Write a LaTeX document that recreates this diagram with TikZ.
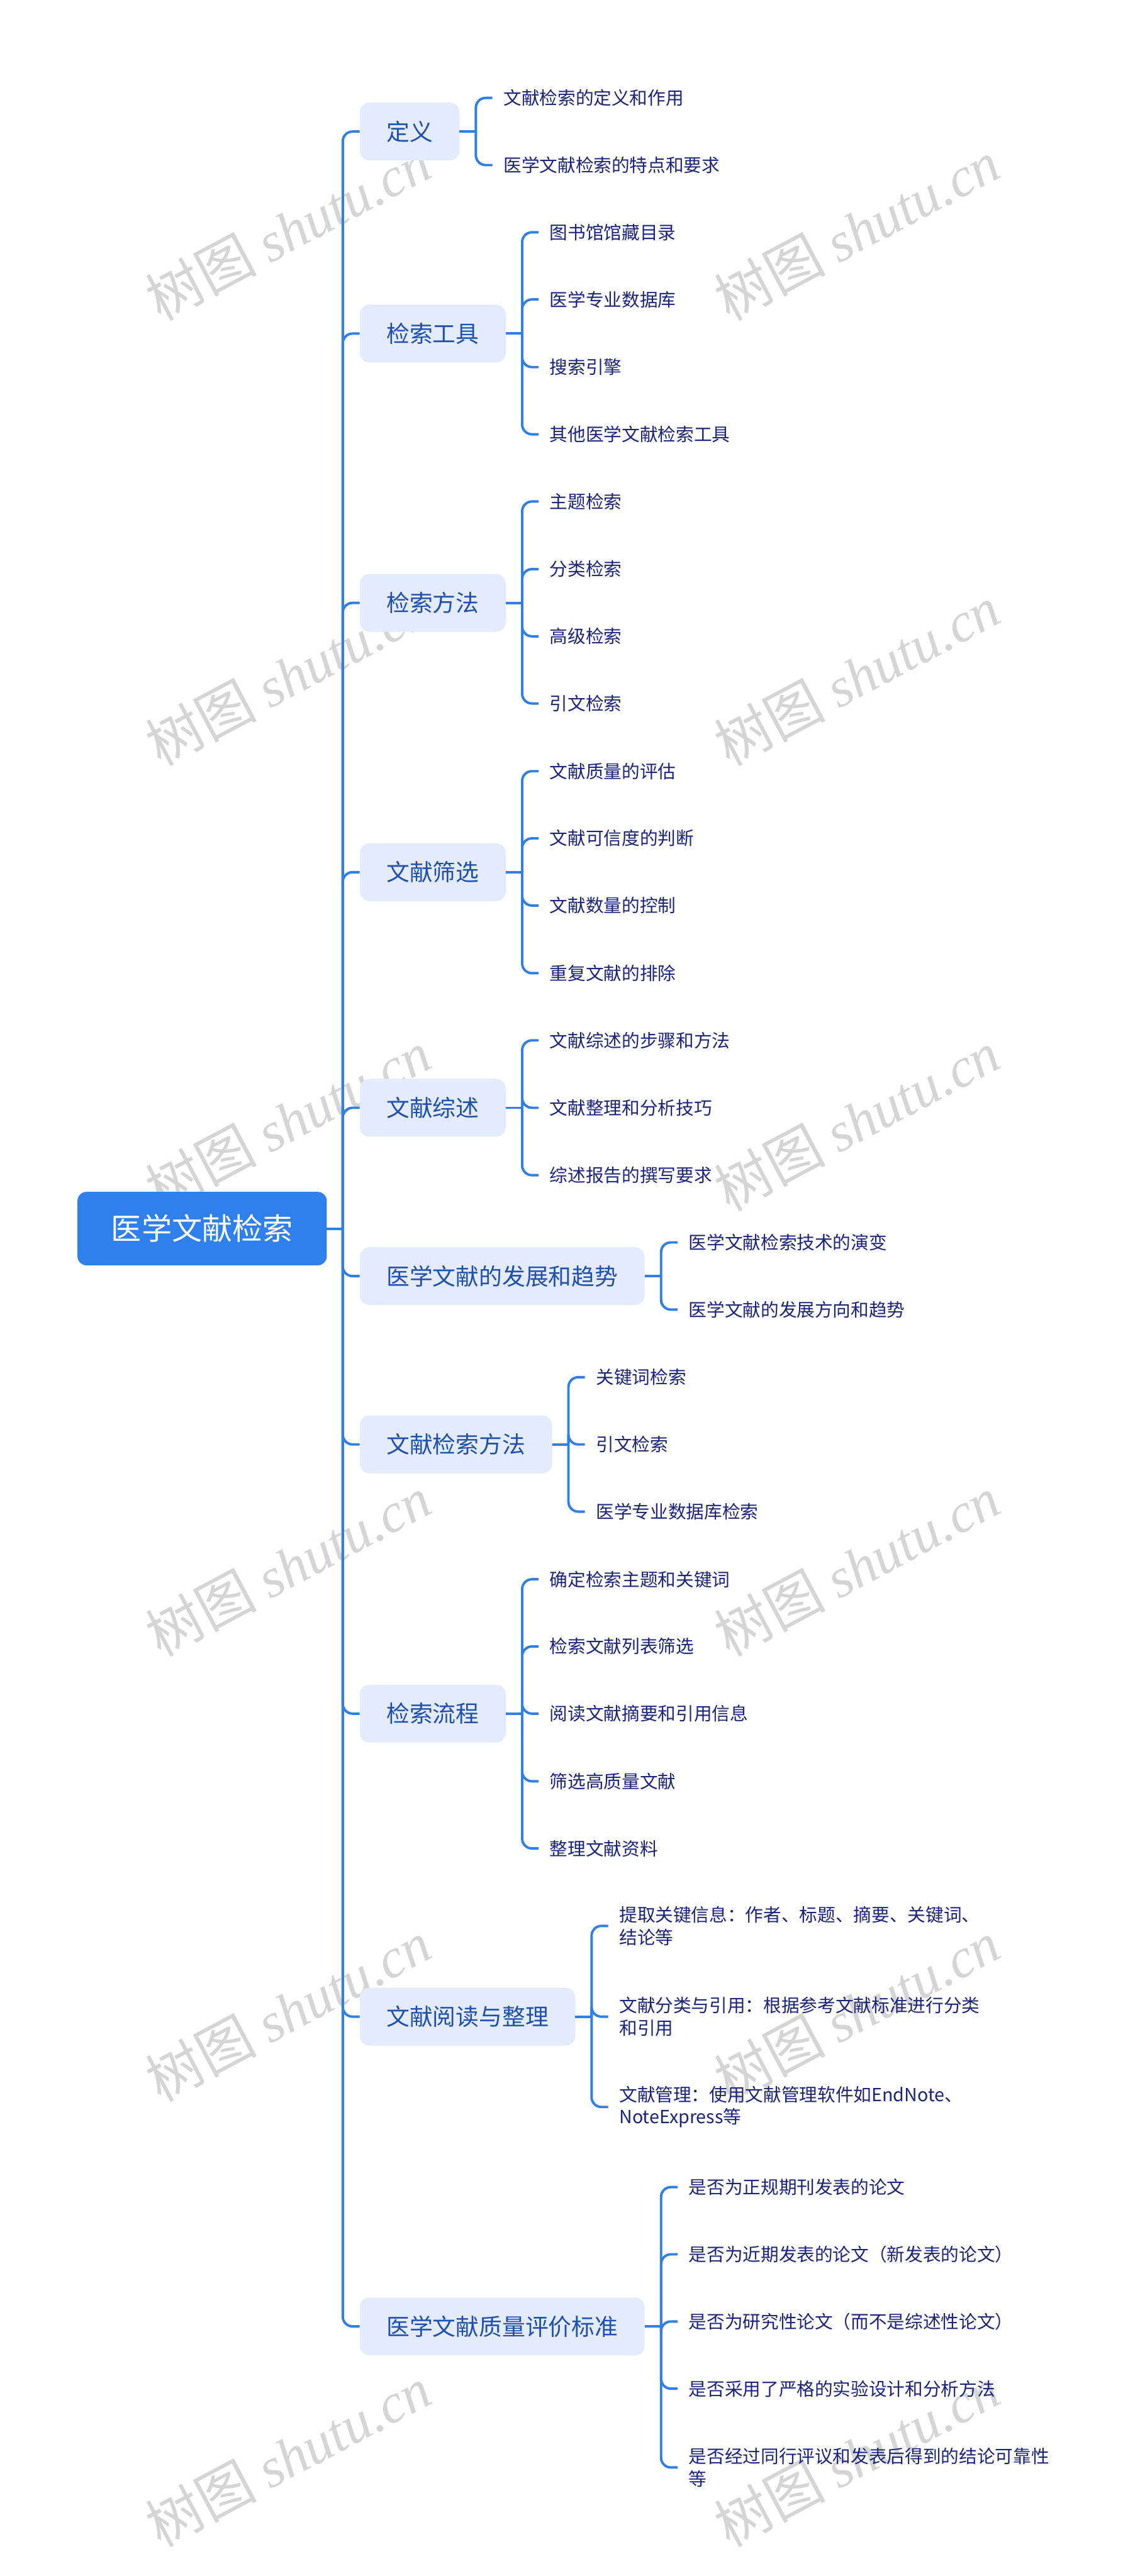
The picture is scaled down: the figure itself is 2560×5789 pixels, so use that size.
\documentclass[tikz,border=0pt]{standalone}
\usepackage{fontspec}
\setmainfont{Noto Sans CJK SC}
\newfontfamily\wmserif{Liberation Serif}
\newfontfamily\wmcjk{Noto Sans CJK SC}
\definecolor{rootblue}{HTML}{2F80ED}
\definecolor{linkblue}{HTML}{2F7FE6}
\definecolor{brfill}{HTML}{E3EBFC}
\definecolor{brtext}{HTML}{1F4FAF}
\definecolor{leaftext}{HTML}{1B237A}
\definecolor{wmgray}{HTML}{D5D5D5}
\tikzset{
  rootbox/.style={rectangle, rounded corners=20pt, fill=rootblue, text=white,
    font=\fontsize{68}{80}\selectfont, minimum width=560pt, minimum height=165pt, inner sep=0pt},
  branchbox/.style={rectangle, rounded corners=22pt, fill=brfill, text=brtext,
    font=\fontsize{52}{62}\selectfont, minimum height=130pt, inner xsep=60pt, inner ysep=0pt, anchor=west},
  leafbox/.style={anchor=west, text=leaftext, font=\fontsize{40.5}{50}\selectfont,
    inner xsep=25pt, inner ysep=4pt, align=left},
  conn/.style={draw=linkblue, line width=5.5pt, rounded corners=22pt},
  wmark/.style={text=wmgray, font=\fontsize{125}{140}\selectfont, rotate=28, inner sep=0pt}
}
\begin{document}
\begin{tikzpicture}[x=1pt, y=-1pt]
\fill[white] (0,0) rectangle (2560,5789);
\useasboundingbox (0,0) rectangle (2560,5789);

% watermarks
\foreach \r [count=\i] in {517,1518,2518,3519,4519,5520}{
  \node[wmark] (wmL\i) at (647,\r) {{\wmcjk 树图} {\wmserif\itshape shutu.cn}};
  \node[wmark] (wmR\i) at (1925,\r) {{\wmcjk 树图} {\wmserif\itshape shutu.cn}};
}

% root
\node[rootbox] (root) at (454,2761) {医学文献检索};
\coordinate (T) at (770,2761);

% branches
\node[branchbox] (b1) at (808,295.6) {定义};
\node[branchbox] (b2) at (808,749.6) {检索工具};
\node[branchbox] (b3) at (808,1354.8) {检索方法};
\node[branchbox] (b4) at (808,1960) {文献筛选};
\node[branchbox] (b5) at (808,2489.5) {文献综述};
\node[branchbox] (b6) at (808,2867.8) {医学文献的发展和趋势};
\node[branchbox] (b7) at (808,3246) {文献检索方法};
\node[branchbox] (b8) at (808,3851) {检索流程};
\node[branchbox] (b9) at (808,4532) {文献阅读与整理};
\node[branchbox] (b10) at (808,5228) {医学文献质量评价标准};

% junctions (bracket spines)
\coordinate (j1) at (1069,295.6);
\coordinate (j2) at (1173,749.6);
\coordinate (j3) at (1173,1354.8);
\coordinate (j4) at (1173,1960);
\coordinate (j5) at (1173,2489.5);
\coordinate (j6) at (1485,2867.8);
\coordinate (j7) at (1277,3246);
\coordinate (j8) at (1173,3851);
\coordinate (j9) at (1329,4532);
\coordinate (j10) at (1485,5228);

% leaves
\node[leafbox] (l1a) at (1106,220) {文献检索的定义和作用};
\node[leafbox] (l1b) at (1106,371) {医学文献检索的特点和要求};

\node[leafbox] (l2a) at (1210,522) {图书馆馆藏目录};
\node[leafbox] (l2b) at (1210,673) {医学专业数据库};
\node[leafbox] (l2c) at (1210,825) {搜索引擎};
\node[leafbox] (l2d) at (1210,976) {其他医学文献检索工具};

\node[leafbox] (l3a) at (1210,1127) {主题检索};
\node[leafbox] (l3b) at (1210,1279) {分类检索};
\node[leafbox] (l3c) at (1210,1430) {高级检索};
\node[leafbox] (l3d) at (1210,1581) {引文检索};

\node[leafbox] (l4a) at (1210,1733) {文献质量的评估};
\node[leafbox] (l4b) at (1210,1884) {文献可信度的判断};
\node[leafbox] (l4c) at (1210,2035) {文献数量的控制};
\node[leafbox] (l4d) at (1210,2187) {重复文献的排除};

\node[leafbox] (l5a) at (1210,2338) {文献综述的步骤和方法};
\node[leafbox] (l5b) at (1210,2489.5) {文献整理和分析技巧};
\node[leafbox] (l5c) at (1210,2641) {综述报告的撰写要求};

\node[leafbox] (l6a) at (1522,2792) {医学文献检索技术的演变};
\node[leafbox] (l6b) at (1522,2943) {医学文献的发展方向和趋势};

\node[leafbox] (l7a) at (1314,3095) {关键词检索};
\node[leafbox] (l7b) at (1314,3246) {引文检索};
\node[leafbox] (l7c) at (1314,3397) {医学专业数据库检索};

\node[leafbox] (l8a) at (1210,3549) {确定检索主题和关键词};
\node[leafbox] (l8b) at (1210,3700) {检索文献列表筛选};
\node[leafbox] (l8c) at (1210,3851) {阅读文献摘要和引用信息};
\node[leafbox] (l8d) at (1210,4003) {筛选高质量文献};
\node[leafbox] (l8e) at (1210,4154) {整理文献资料};

\node[leafbox] (l9a) at (1366,4328) {提取关键信息：作者、标题、摘要、关键词、\\结论等};
\node[leafbox] (l9b) at (1366,4532) {文献分类与引用：根据参考文献标准进行分类\\和引用};
\node[leafbox] (l9c) at (1366,4735) {文献管理：使用文献管理软件如EndNote、\\NoteExpress等};

\node[leafbox] (l10a) at (1522,4915) {是否为正规期刊发表的论文};
\node[leafbox] (l10b) at (1522,5066) {是否为近期发表的论文（新发表的论文）};
\node[leafbox] (l10c) at (1522,5217) {是否为研究性论文（而不是综述性论文）};
\node[leafbox] (l10d) at (1522,5368) {是否采用了严格的实验设计和分析方法};
\node[leafbox] (l10e) at (1522,5545) {是否经过同行评议和发表后得到的结论可靠性\\等};

% connectors root -> branches
\draw[conn] (root.east) -- (T);
\foreach \b in {b1,b2,b3,b4,b5,b6,b7,b8,b9,b10}{
  \draw[conn] (T) |- (\b.west);
}

% connectors branch -> leaves
\foreach \b/\j/\leaves in {b1/j1/{l1a,l1b}, b2/j2/{l2a,l2b,l2c,l2d}, b3/j3/{l3a,l3b,l3c,l3d},
  b4/j4/{l4a,l4b,l4c,l4d}, b5/j5/{l5a,l5b,l5c}, b6/j6/{l6a,l6b}, b7/j7/{l7a,l7b,l7c},
  b8/j8/{l8a,l8b,l8c,l8d,l8e}, b9/j9/{l9a,l9b,l9c}, b10/j10/{l10a,l10b,l10c,l10d,l10e}}{
  \draw[conn] (\b.east) -- (\j);
  \foreach \l in \leaves {
    \draw[conn] (\j) |- (\l.west);
  }
}
\end{tikzpicture}
\end{document}
